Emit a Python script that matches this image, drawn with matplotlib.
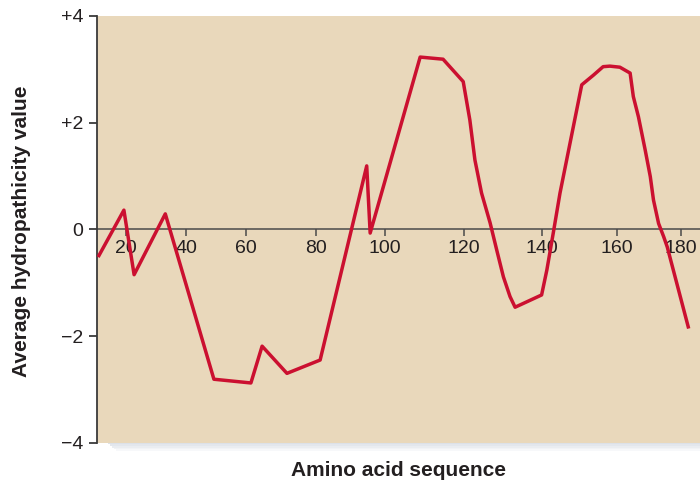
import numpy as np
import matplotlib
matplotlib.use('Agg')
import matplotlib.pyplot as plt
from matplotlib.patches import Rectangle

plt.rcParams['font.family'] = ['Liberation Sans', 'DejaVu Sans']

# ---- data ----
residue = [10.7, 19.3, 22.7, 33.1, 49.3, 61.4, 64.6, 71.7, 81.2, 94.7, 95.7,
           108.9, 114.7, 119.8, 121.5, 122.8, 124.5, 126.7, 128.4, 130.1, 131.8,
           133.1, 139.9, 141.3, 143.0, 144.8, 150.6, 153.7, 156.3, 158.1, 160.9,
           164.1, 165.1, 166.7, 168.8, 170.4, 171.4, 173.0, 174.6, 175.7, 182.4]
hydropathy = [-0.52, 0.36, -0.85, 0.29, -2.81, -2.88, -2.19, -2.70, -2.45, 1.19, -0.07,
              3.23, 3.19, 2.77, 2.05, 1.30, 0.68, 0.12, -0.39, -0.89, -1.26,
              -1.46, -1.23, -0.76, -0.07, 0.68, 2.71, 2.89, 3.05, 3.06, 3.04,
              2.93, 2.49, 2.11, 1.49, 0.99, 0.55, 0.11, -0.14, -0.33, -1.86]

x_ticks = [20, 40, 60, 80, 100, 120, 140, 160, 180]
x_tick_labels = ['20', '40', '60', '80', '100', '120', '140', '160', '180']
y_ticks = [4, 2, 0, -2, -4]
y_tick_labels = ['+4', '+2', '0', '\u22122', '\u22124']

x_label = 'Amino acid sequence'
y_label = 'Average hydropathicity value'

# hand-drawn axis of the original is not evenly spaced: piecewise-linear scale
warp_aa = [-1000, 0, 20, 40, 60, 80, 100, 120, 140, 160, 180, 1000]
warp_pos = [-2934, 66, 126, 186, 246, 316, 385, 464, 542, 617, 681, 3305]


def fwd(a):
    return np.interp(a, warp_aa, warp_pos)


def inv(p):
    return np.interp(p, warp_pos, warp_aa)


# ---- styling ----
bg = '#E9D8BB'
line_col = '#CB1030'
text_col = '#231F20'
axis_col = '#3A3A3A'

W, H = 700, 484
fig = plt.figure(figsize=(W / 100, H / 100), dpi=100)
ax_left, ax_right, ax_top, ax_bottom = 97, 700, 16, 442.7
ax = fig.add_axes([ax_left / W, 1 - ax_bottom / H,
                   (ax_right - ax_left) / W, (ax_bottom - ax_top) / H])
ax.set_facecolor(bg)

# soft fading shadow under the panel
shadow_cols = ['#DCE1E8', '#E3E7ED', '#EAEDF1', '#F1F3F6', '#F7F8FA']
for i, c in enumerate(shadow_cols):
    y0 = ax_bottom + 1.6 * i
    fig.patches.append(Rectangle(((108 + 2 * i) / W, 1 - (y0 + 1.6) / H),
                                 (W - 108 - 2 * i) / W, 1.6 / H,
                                 transform=fig.transFigure, color=c,
                                 zorder=0, lw=0))

ax.set_xscale('function', functions=(fwd, inv))
ax.set_xlim(inv(ax_left), inv(ax_right))
ax.set_ylim(-4, 4)

ax.plot(residue, hydropathy, color=line_col, lw=2.5,
        solid_joinstyle='round', solid_capstyle='butt', zorder=3)

for s in ['top', 'right']:
    ax.spines[s].set_visible(False)
ax.spines['left'].set_color(axis_col)
ax.spines['left'].set_linewidth(1.3)
ax.spines['bottom'].set_position(('data', 0))
ax.spines['bottom'].set_color('#4A4A4A')
ax.spines['bottom'].set_linewidth(1.1)
ax.spines['bottom'].set_zorder(2)

ax.set_xticks(x_ticks)
ax.set_xticklabels(x_tick_labels)
ax.xaxis.set_minor_locator(matplotlib.ticker.NullLocator())
ax.set_yticks(y_ticks)
ax.set_yticklabels(y_tick_labels)

ax.tick_params(axis='x', direction='out', length=5, width=1.1, pad=3,
               labelsize=14, colors='#4A4A4A', labelcolor=text_col)
ax.tick_params(axis='y', direction='out', length=6, width=1.3, pad=4,
               labelsize=14, colors=axis_col, labelcolor=text_col)

fig.text((ax_left + ax_right) / 2 / W, 1 - 470 / H, x_label, ha='center',
         va='center', fontsize=15, fontweight='bold', color=text_col)
fig.text(22 / W, 1 - 231 / H, y_label, ha='center', va='center',
         rotation=90, fontsize=15, fontweight='bold', color=text_col)

fig.savefig('out.png', dpi=100)
